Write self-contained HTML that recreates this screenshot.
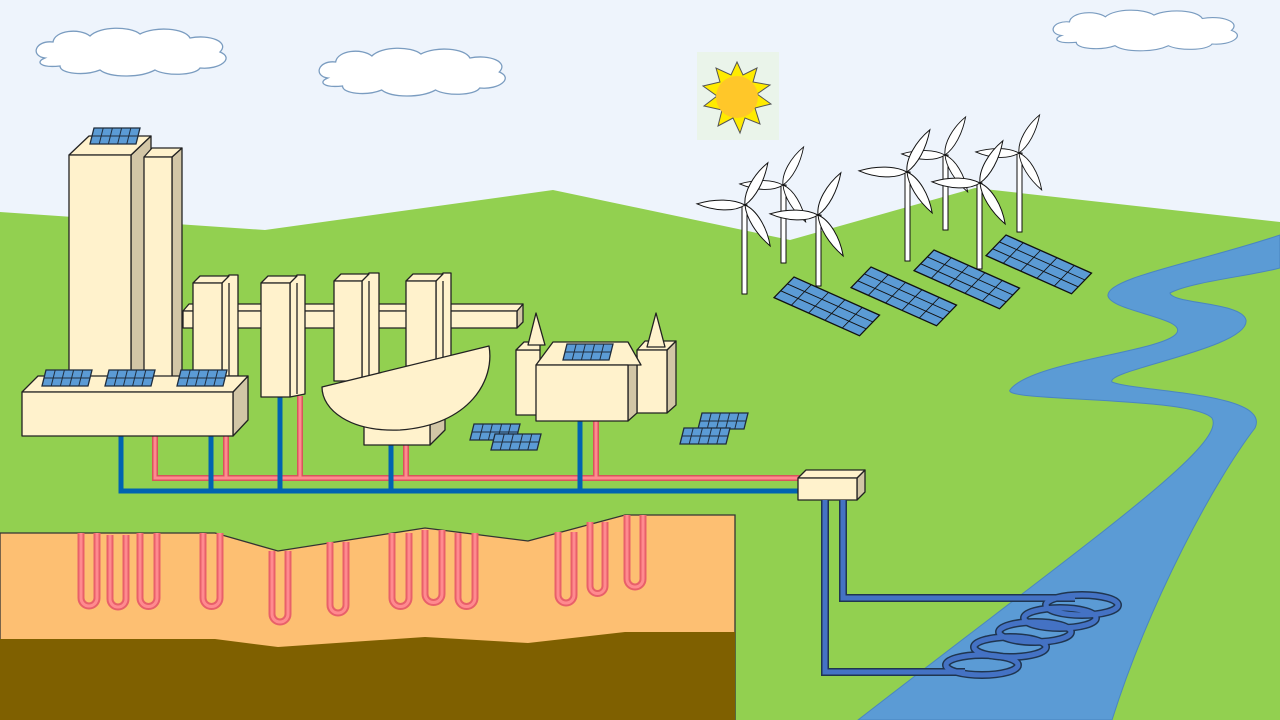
<!DOCTYPE html>
<html><head><meta charset="utf-8"><style>html,body{margin:0;padding:0;background:#eef4fc;}svg{display:block}</style></head>
<body>
<svg width="1280" height="720" viewBox="0 0 1280 720" xmlns="http://www.w3.org/2000/svg">
<defs>
<g id="sp">
<polygon points="4,0 50,0 46,16 0,16" fill="#5b9bd5" stroke="#1f2d3d" stroke-width="1.3"/>
<line x1="2" y1="8" x2="48" y2="8" stroke="#1f2d3d" stroke-width="1"/>
<line x1="13.2" y1="0" x2="9.2" y2="16" stroke="#1f2d3d"/><line x1="22.4" y1="0" x2="18.4" y2="16" stroke="#1f2d3d"/><line x1="31.6" y1="0" x2="27.6" y2="16" stroke="#1f2d3d"/><line x1="40.8" y1="0" x2="36.8" y2="16" stroke="#1f2d3d"/>
</g>
<g id="fp">
<rect x="0" y="0" width="104" height="30" fill="#5b9bd5" stroke="#111" stroke-width="1.5"/>
<line x1="0" y1="10" x2="104" y2="10" stroke="#111"/><line x1="0" y1="20" x2="104" y2="20" stroke="#111"/>
<line x1="21" y1="0" x2="21" y2="30" stroke="#111"/><line x1="42" y1="0" x2="42" y2="30" stroke="#111"/><line x1="62" y1="0" x2="62" y2="30" stroke="#111"/><line x1="83" y1="0" x2="83" y2="30" stroke="#111"/>
</g>
<path id="bl" d="M0,0 C10,-8 30,-9 48,-3 C30,4 12,5 0,0 Z" fill="#fff" stroke="#111" stroke-width="1"/>
<g id="rot"><use href="#bl" transform="rotate(185)"/><use href="#bl" transform="rotate(-58)"/><use href="#bl" transform="rotate(62)"/></g>
<g id="cl"><path d="M10,30 C-5,28 0,12 18,14 C20,2 45,0 55,8 C65,-2 95,-2 105,6 C120,-2 150,0 155,10 C175,6 195,14 185,24 C200,30 185,42 165,40 C160,48 130,48 120,42 C105,50 75,50 65,42 C50,48 25,46 25,38 C5,40 0,34 10,30 Z" fill="#fff" stroke="#7a9cc0" stroke-width="1.3"/></g>
</defs>

<rect width="1280" height="720" fill="#eef4fc"/>
<use href="#cl" transform="translate(35,28)"/>
<use href="#cl" transform="translate(318,48) scale(0.98,1.0)"/>
<use href="#cl" transform="translate(1052,10) scale(0.97,0.85)"/>
<rect x="697" y="52" width="82" height="88" fill="#eaf4ea"/>
<polygon points="737,62 743,75 757,68 753,82 770,85 757,94 771,104 755,108 760,124 745,118 740,133 733,118 718,126 722,110 704,106 717,96 703,86 720,82 716,68 731,75" fill="#ffeb00" stroke="#555" stroke-width="1"/>
<circle cx="737" cy="97" r="21" fill="#ffc729"/>
<polygon points="0,212 265,230 553,190 790,240 975,188 1280,222 1280,720 0,720" fill="#92d050"/>
<path d="M1280,235 C1200,262 1105,278 1108,296 C1112,312 1190,318 1176,334 C1160,352 1030,362 1010,390 C1002,402 1190,396 1212,418 C1228,445 1090,540 858,720 L1112,720 C1150,600 1215,480 1255,428 C1272,392 1135,392 1112,382 C1105,370 1250,348 1246,320 C1242,302 1172,304 1170,293 C1190,282 1250,276 1280,268 Z" fill="#5b9bd5" stroke="#4a86c0" stroke-width="1"/>
<polygon points="0,533 215,533 278,551 425,528 528,541 625,515 735,515 735,720 0,720" fill="#fdbf72" stroke="#333" stroke-width="1.3"/>
<polygon points="0,639 215,639 278,647 425,637 528,643 625,632 735,632 735,720 0,720" fill="#7f6000"/>
<g fill="none" stroke-linecap="butt">
<g stroke="#e8606a" stroke-width="7">
<path d="M81,533 V598 A8,8 0 0 0 97,598 V533"/><path d="M110,535 V599 A8,8 0 0 0 126,599 V535"/><path d="M140,533 V598 A8.5,8.5 0 0 0 157,598 V533"/><path d="M203,533 V598 A8.5,8.5 0 0 0 220,598 V533"/><path d="M272,551 V614 A8,8 0 0 0 288,614 V551"/><path d="M330,542 V605 A8,8 0 0 0 346,605 V542"/><path d="M392,533 V598 A8.5,8.5 0 0 0 409,598 V533"/><path d="M425,530 V594 A8.5,8.5 0 0 0 442,594 V530"/><path d="M458,533 V598 A8.5,8.5 0 0 0 475,598 V533"/><path d="M558,532 V595 A8,8 0 0 0 574,595 V532"/><path d="M590,522 V586 A7.5,7.5 0 0 0 605,586 V522"/><path d="M627,515 V579 A8,8 0 0 0 643,579 V515"/>
</g>
<g stroke="#ff8a8f" stroke-width="3">
<path d="M81,533 V598 A8,8 0 0 0 97,598 V533"/><path d="M110,535 V599 A8,8 0 0 0 126,599 V535"/><path d="M140,533 V598 A8.5,8.5 0 0 0 157,598 V533"/><path d="M203,533 V598 A8.5,8.5 0 0 0 220,598 V533"/><path d="M272,551 V614 A8,8 0 0 0 288,614 V551"/><path d="M330,542 V605 A8,8 0 0 0 346,605 V542"/><path d="M392,533 V598 A8.5,8.5 0 0 0 409,598 V533"/><path d="M425,530 V594 A8.5,8.5 0 0 0 442,594 V530"/><path d="M458,533 V598 A8.5,8.5 0 0 0 475,598 V533"/><path d="M558,532 V595 A8,8 0 0 0 574,595 V532"/><path d="M590,522 V586 A7.5,7.5 0 0 0 605,586 V522"/><path d="M627,515 V579 A8,8 0 0 0 643,579 V515"/>
</g>
</g>

<g stroke="#111" stroke-width="1" fill="#fff">
<rect x="781" y="185" width="5" height="78"/><use href="#rot" transform="translate(783,185) scale(0.9)"/>
<rect x="943" y="155" width="5" height="75"/><use href="#rot" transform="translate(945,155) scale(0.9)"/>
<rect x="1017" y="153" width="5" height="79"/><use href="#rot" transform="translate(1019,153) scale(0.9)"/>
<rect x="742" y="205" width="5" height="89"/><use href="#rot" transform="translate(745,205)"/>
<rect x="905" y="172" width="5" height="89"/><use href="#rot" transform="translate(907,172)"/>
<rect x="816" y="215" width="5" height="71"/><use href="#rot" transform="translate(818,215)"/>
<rect x="977" y="183" width="5" height="86"/><use href="#rot" transform="translate(980,183)"/>
</g>
<use href="#fp" transform="translate(794,277) rotate(24) skewX(-20) scale(0.9,0.9)"/>
<use href="#fp" transform="translate(871,267) rotate(24) skewX(-20) scale(0.9,0.9)"/>
<use href="#fp" transform="translate(934,250) rotate(24) skewX(-20) scale(0.9,0.9)"/>
<use href="#fp" transform="translate(1006,235) rotate(24) skewX(-20) scale(0.9,0.9)"/>

<g fill="none">
<g stroke="#d8545c" stroke-width="6"><path d="M155,436 V478 H800"/><path d="M226,436 V478"/><path d="M300,396 V478"/><path d="M406,445 V478"/><path d="M596,421 V478"/></g>
<g stroke="#ff8a8f" stroke-width="3"><path d="M155,436 V478 H800"/><path d="M226,436 V478"/><path d="M300,396 V478"/><path d="M406,445 V478"/><path d="M596,421 V478"/></g>
<g stroke="#0063b1" stroke-width="5"><path d="M121,436 V491 H800"/><path d="M211,436 V491"/><path d="M280,396 V491"/><path d="M391,445 V491"/><path d="M580,421 V491"/></g>
</g>

<g stroke="#222" stroke-width="1.3" stroke-linejoin="round">
<polygon points="131,155 151,136 151,380 131,380" fill="#d2c6a6"/>
<polygon points="69,155 89,136 151,136 131,155" fill="#fff2cc"/>
<rect x="69" y="155" width="62" height="225" fill="#fff2cc"/>
<polygon points="172,157 182,148 182,380 172,380" fill="#d2c6a6"/>
<polygon points="144,157 152,148 182,148 172,157" fill="#fff2cc"/>
<rect x="144" y="157" width="28" height="223" fill="#fff2cc"/>
<polygon points="517,311 523,304 523,322 517,328" fill="#d2c6a6"/>
<polygon points="183,311 189,304 523,304 517,311" fill="#fff2cc"/>
<rect x="183" y="311" width="334" height="17" fill="#fff2cc"/>
<g>
<polygon points="222,283 229,275 238,275 238,376 222,376" fill="#fff2cc"/><line x1="229" y1="283" x2="229" y2="376"/>
<polygon points="193,283 200,276 229,276 222,283" fill="#fff2cc"/><rect x="193" y="283" width="29" height="93" fill="#fff2cc"/>
<polygon points="290,283 297,275 305,275 305,394 290,397" fill="#fff2cc"/><line x1="297" y1="283" x2="297" y2="394"/>
<polygon points="261,283 268,276 297,276 290,283" fill="#fff2cc"/><rect x="261" y="283" width="29" height="114" fill="#fff2cc"/>
<polygon points="362,281 369,273 379,273 379,380 362,380" fill="#fff2cc"/><line x1="369" y1="281" x2="369" y2="380"/>
<polygon points="334,281 341,274 369,274 362,281" fill="#fff2cc"/><rect x="334" y="281" width="28" height="100" fill="#fff2cc"/>
<polygon points="436,281 443,273 451,273 451,360 436,360" fill="#fff2cc"/><line x1="443" y1="281" x2="443" y2="360"/>
<polygon points="406,281 413,274 443,274 436,281" fill="#fff2cc"/><rect x="406" y="281" width="30" height="85" fill="#fff2cc"/>
</g>
<polygon points="233,392 248,376 248,420 233,436" fill="#d2c6a6"/>
<polygon points="22,392 38,376 248,376 233,392" fill="#fff2cc"/>
<rect x="22" y="392" width="211" height="44" fill="#fff2cc"/>
<polygon points="430,420 445,405 445,430 430,445" fill="#d2c6a6"/>
<rect x="364" y="420" width="66" height="25" fill="#fff2cc"/>
<path d="M322,387 L489,346 C495,380 470,425 400,430 C350,432 322,410 322,387 Z" fill="#fff2cc"/>
<rect x="516" y="350" width="24" height="65" fill="#fff2cc"/>
<polygon points="516,350 524,342 540,342 540,350" fill="#fff2cc"/>
<polygon points="528,345 536,313 545,345" fill="#fff2cc"/>
<polygon points="667,350 676,341 676,405 667,413" fill="#d2c6a6"/>
<polygon points="637,350 645,341 676,341 667,350" fill="#fff2cc"/>
<rect x="637" y="350" width="30" height="63" fill="#fff2cc"/>
<polygon points="647,347 656,313 665,347" fill="#fff2cc"/>
<polygon points="628,365 637,356 637,413 628,421" fill="#d2c6a6"/>
<polygon points="536,365 553,342 628,342 641,365" fill="#fff2cc"/>
<rect x="536" y="365" width="92" height="56" fill="#fff2cc"/>
<polygon points="857,478 865,470 865,492 857,500" fill="#d2c6a6"/>
<polygon points="798,478 806,470 865,470 857,478" fill="#fff2cc"/>
<rect x="798" y="478" width="59" height="22" fill="#fff2cc"/>
</g>
<use href="#sp" transform="translate(90,128)"/>
<use href="#sp" transform="translate(42,370)"/>
<use href="#sp" transform="translate(105,370)"/>
<use href="#sp" transform="translate(177,370)"/>
<use href="#sp" transform="translate(563,344)"/>
<use href="#sp" transform="translate(470,424)"/>
<use href="#sp" transform="translate(491,434)"/>
<use href="#sp" transform="translate(698,413)"/>
<use href="#sp" transform="translate(680,428)"/>

<g fill="none">
<g stroke="#1f3550" stroke-width="8">
<path d="M825,500 V672 H965"/><path d="M843,500 V598 H1075"/>
<ellipse cx="1082" cy="605" rx="36" ry="10"/><ellipse cx="1060" cy="618" rx="36" ry="10"/><ellipse cx="1035" cy="632" rx="36" ry="10"/><ellipse cx="1010" cy="647" rx="36" ry="10"/><ellipse cx="982" cy="665" rx="36" ry="10"/>
</g>
<g stroke="#4472c4" stroke-width="5">
<path d="M825,500 V672 H965"/><path d="M843,500 V598 H1075"/>
<ellipse cx="1082" cy="605" rx="36" ry="10"/><ellipse cx="1060" cy="618" rx="36" ry="10"/><ellipse cx="1035" cy="632" rx="36" ry="10"/><ellipse cx="1010" cy="647" rx="36" ry="10"/><ellipse cx="982" cy="665" rx="36" ry="10"/>
</g>
</g>
</svg>
</body></html>
